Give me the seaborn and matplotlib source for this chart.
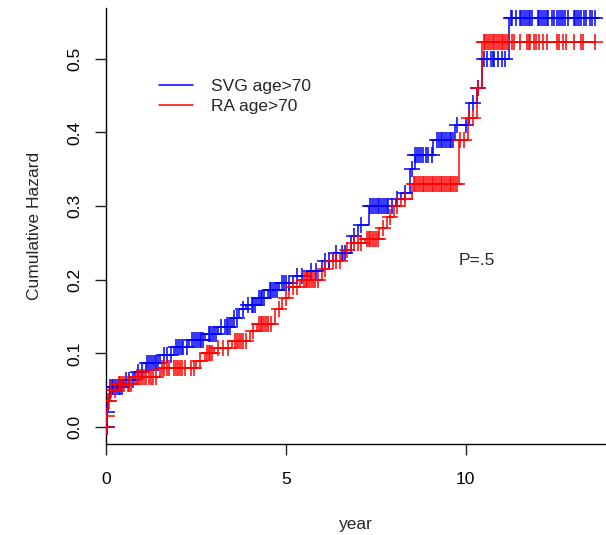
import numpy as np
import pandas as pd
import matplotlib
matplotlib.use("Agg")
import matplotlib.pyplot as plt
import seaborn as sns

# ---- data ----
svg_times = [0.0, 0.02, 0.05, 0.1, 0.5, 0.8, 1.1, 1.5, 1.9, 2.3, 2.75, 3.1, 3.5, 3.7, 3.9,
             4.2, 4.5, 4.8, 5.2, 5.6, 6.0, 6.3, 6.8, 7.0, 7.3, 8.05, 8.2, 8.45, 8.6, 9.1,
             9.7, 10.1, 10.3, 10.45, 11.2]
svg_haz = [0.0, 0.02, 0.04, 0.055, 0.064, 0.075, 0.087, 0.098, 0.109, 0.118, 0.127, 0.136,
           0.148, 0.160, 0.166, 0.175, 0.186, 0.196, 0.205, 0.212, 0.225, 0.237, 0.26,
           0.275, 0.30, 0.31, 0.318, 0.35, 0.37, 0.39, 0.41, 0.44, 0.46, 0.50, 0.555]
svg_end = 13.6
svg_censor = [0.005, 0.015, 0.03, 0.12, 0.17, 0.2, 0.25, 0.3, 0.35, 0.4, 0.45, 0.55, 0.65,
              0.75, 0.9, 1.0, 1.15, 1.2, 1.25, 1.3, 1.35, 1.4, 1.45, 1.6, 1.7, 1.8, 1.95,
              2.0, 2.05, 2.1, 2.15, 2.25, 2.4, 2.45, 2.5, 2.55, 2.6, 2.65, 2.7, 2.85,
              2.9, 2.95, 3.0, 3.05, 3.2, 3.3, 3.35, 3.4, 3.45, 3.55, 3.65, 3.8, 3.95, 4.05,
              4.1, 4.15, 4.25, 4.3, 4.35, 4.4, 4.55, 4.6, 4.65, 4.7, 4.75, 4.9, 4.95, 5.0,
              5.1, 5.3, 5.45, 5.7, 5.85, 6.1, 6.2, 6.4, 6.55, 6.65, 6.9, 7.1, 7.35, 7.4,
              7.45, 7.5, 7.55, 7.6, 7.65, 7.7, 7.75, 7.8, 7.85, 7.95, 8.1, 8.3, 8.5, 8.6,
              8.65, 8.7, 8.75, 8.8, 8.9, 8.95, 9.05, 9.2, 9.25, 9.3, 9.35, 9.4, 9.45, 9.5,
              9.55, 9.6, 9.65, 9.75, 10.0, 10.2, 10.35, 10.5, 10.6, 10.7, 10.75, 10.8,
              10.9, 11.0, 11.1, 11.25, 11.3, 11.4, 11.5, 11.55, 11.6, 11.65, 11.7, 11.75,
              11.8, 11.85, 12.0, 12.05, 12.1, 12.15, 12.2, 12.25, 12.3, 12.4, 12.45, 12.55,
              12.6, 12.65, 12.7, 12.75, 12.85, 13.0, 13.05, 13.1, 13.15, 13.2, 13.3, 13.35,
              13.45, 13.5, 13.6]

ra_times = [0.0, 0.02, 0.04, 0.1, 0.3, 0.8, 1.5, 2.5, 2.75, 3.0, 3.5, 4.0, 4.2, 4.7, 4.9,
            5.1, 5.4, 6.0, 6.2, 6.6, 6.8, 7.2, 7.6, 7.8, 8.0, 8.2, 8.5, 9.8, 10.05, 10.3,
            10.45]
ra_haz = [0.0, 0.015, 0.035, 0.05, 0.058, 0.068, 0.08, 0.09, 0.10, 0.107, 0.117, 0.13,
          0.14, 0.16, 0.175, 0.19, 0.20, 0.215, 0.225, 0.24, 0.25, 0.255, 0.27, 0.285,
          0.30, 0.31, 0.33, 0.39, 0.42, 0.46, 0.523]
ra_end = 13.6
ra_censor = [0.01, 0.03, 0.05, 0.08, 0.15, 0.25, 0.35, 0.4, 0.45, 0.5, 0.6, 0.65, 0.7,
             0.85, 0.9, 0.95, 1.0, 1.05, 1.1, 1.2, 1.25, 1.3, 1.4, 1.55, 1.6, 1.7, 1.75,
             1.9, 1.95, 2.0, 2.05, 2.1, 2.2, 2.35, 2.45, 2.6, 2.8, 2.85, 2.9, 2.95, 3.1,
             3.25, 3.4, 3.6, 3.65, 3.7, 3.75, 3.8, 3.9, 4.1, 4.25, 4.3, 4.35, 4.4, 4.45,
             4.5, 4.6, 4.8, 5.0, 5.2, 5.3, 5.5, 5.55, 5.6, 5.65, 5.7, 5.75, 5.8, 5.9, 6.1,
             6.3, 6.4, 6.5, 6.7, 6.9, 7.0, 7.1, 7.25, 7.3, 7.35, 7.4, 7.45, 7.5, 7.55,
             7.7, 7.9, 8.1, 8.3, 8.55, 8.6, 8.65, 8.7, 8.75, 8.8, 8.85, 8.9, 8.95, 9.0,
             9.05, 9.1, 9.15, 9.2, 9.25, 9.3, 9.35, 9.4, 9.45, 9.5, 9.55, 9.6, 9.65, 9.7,
             9.75, 9.85, 9.95, 10.1, 10.2, 10.35, 10.5, 10.55, 10.6, 10.65, 10.7, 10.75,
             10.8, 10.85, 10.9, 10.95, 11.0, 11.05, 11.1, 11.15, 11.2, 11.3, 11.35, 11.5,
             11.7, 11.75, 11.8, 11.9, 11.95, 12.05, 12.15, 12.25, 12.55, 12.6, 12.7, 12.8,
             13.0, 13.2, 13.25, 13.6]

series_labels = ["SVG age>70", "RA age>70"]
x_ticks = [0, 5, 10]
y_ticks = [0.0, 0.1, 0.2, 0.3, 0.4, 0.5]
p_text = "P=.5"

# ---- style ----
sns.set_style("ticks")
plt.rcParams["font.family"] = ["Liberation Sans", "DejaVu Sans"]
plt.rcParams["font.size"] = 12.5

W, H = 606, 535
fig = plt.figure(figsize=(W / 100, H / 100), dpi=100)
ax = fig.add_axes([106 / W, 1 - 444 / H, (606 - 106) / W, (444 - 8) / H])

colors = ["#0000FF", "#FF0000"]


def step_df(times, haz, end):
    t = list(times) + [end]
    h = list(haz) + [haz[-1]]
    return pd.DataFrame({"t": t, "h": h})


def censor_df(times, haz, cens):
    idx = np.searchsorted(np.asarray(times), np.asarray(cens), side="right") - 1
    return pd.DataFrame({"t": cens, "h": np.asarray(haz)[idx]})


for times, haz, end, cens, col, lab in [
    (svg_times, svg_haz, svg_end, svg_censor, colors[0], series_labels[0]),
    (ra_times, ra_haz, ra_end, ra_censor, colors[1], series_labels[1]),
]:
    sd = step_df(times, haz, end)
    sns.lineplot(data=sd, x="t", y="h", drawstyle="steps-post", estimator=None,
                 sort=False, color=col, lw=1.1, ax=ax, label=lab)
    cd = censor_df(times, haz, cens)
    sns.scatterplot(data=cd, x="t", y="h", marker="+", s=130, linewidth=1.1,
                    color=col, ax=ax, legend=False, zorder=3)

ax.set_xlim(0, 13.9)
ax.set_ylim(-0.023, 0.569)
ax.set_xticks(x_ticks)
ax.set_xticklabels([str(v) for v in x_ticks])
ax.set_yticks(y_ticks)
ax.set_yticklabels([f"{v:.1f}" for v in y_ticks], rotation=90, va="center")
ax.tick_params(axis="both", direction="out", length=8, width=1, colors="#222222",
               labelcolor="black", labelsize=12.5, pad=9)
ax.tick_params(axis="x", pad=12)
for s in ["top", "right"]:
    ax.spines[s].set_visible(False)
for s in ["left", "bottom"]:
    ax.spines[s].set_linewidth(1.0)
    ax.spines[s].set_color("black")

ax.set_xlabel("year", fontsize=12.5, labelpad=22)
ax.set_ylabel("Cumulative Hazard", fontsize=12.5, labelpad=18)

ax.legend(loc="upper left", bbox_to_anchor=(150 / W, 1 - 70 / H),
          bbox_transform=fig.transFigure, frameon=False, borderpad=0,
          handlelength=2.0, handletextpad=1.0, labelspacing=0.3, fontsize=12.5)

ax.text(10.3, 0.2255, p_text, ha="center", va="center", fontsize=12.5)

fig.savefig("out.png", dpi=100)
